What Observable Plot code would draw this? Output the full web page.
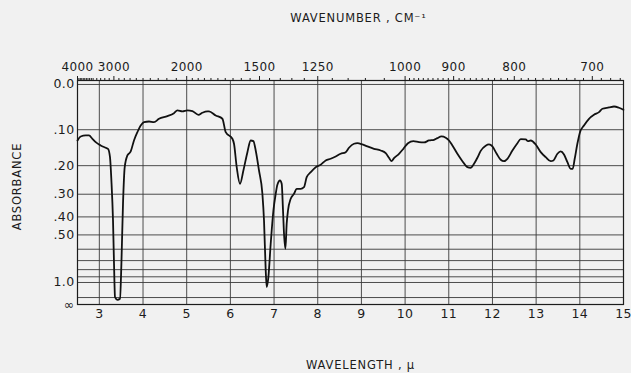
<!DOCTYPE html>
<html><head><meta charset="utf-8">
<script src="https://cdn.jsdelivr.net/npm/d3@7"></script>
<script src="https://cdn.jsdelivr.net/npm/@observablehq/plot@0.6"></script>
<style>
html,body{margin:0;padding:0;background:#f1f1f1;}
svg text{letter-spacing:0.4px;}
g[aria-label="text"] text{letter-spacing:0.8px;}
</style></head><body><div id="chart"></div>
<script>
// Spectrum: wavelength (µm) and absorbance
const wavelength = [2.500,2.573,2.688,2.763,2.841,2.917,3.031,3.146,3.198,3.244,3.276,3.313,3.336,3.359,3.413,3.473,3.505,3.542,3.581,3.642,3.718,3.793,3.871,3.947,4.023,4.137,4.251,4.366,4.558,4.709,4.787,4.902,5.016,5.131,5.268,5.359,5.474,5.511,5.664,5.817,5.893,6.046,6.083,6.145,6.220,6.298,6.390,6.465,6.527,6.580,6.655,6.733,6.770,6.809,6.832,6.870,6.923,6.985,7.038,7.076,7.136,7.175,7.205,7.228,7.260,7.289,7.319,7.381,7.457,7.518,7.610,7.685,7.747,7.839,7.953,8.067,8.182,8.296,8.411,8.525,8.640,8.715,8.830,8.908,9.022,9.137,9.288,9.441,9.556,9.631,9.686,9.746,9.860,9.961,10.066,10.190,10.318,10.433,10.547,10.662,10.739,10.831,10.930,11.005,11.083,11.197,11.312,11.426,11.502,11.578,11.655,11.731,11.845,11.921,11.999,12.097,12.189,12.264,12.342,12.457,12.571,12.647,12.761,12.814,12.876,12.990,13.105,13.219,13.334,13.395,13.487,13.562,13.638,13.716,13.791,13.837,13.883,13.944,14.004,14.095,14.210,14.324,14.439,14.517,14.668,14.783,14.897,14.998];
const absorbance = [0.1276,0.1171,0.1145,0.1145,0.1231,0.1321,0.1410,0.1473,0.1502,0.1743,0.2490,0.4182,0.7328,1.479,1.670,1.586,0.7328,0.3381,0.2047,0.1692,0.1577,0.1276,0.1061,0.0896,0.0816,0.0800,0.0816,0.0736,0.0676,0.0607,0.0546,0.0568,0.0546,0.0562,0.0644,0.0598,0.0568,0.0568,0.0660,0.0736,0.1061,0.1231,0.1364,0.2047,0.2607,0.2153,0.1597,0.1276,0.1294,0.1549,0.2153,0.2983,0.4182,0.8110,1.1043,0.9063,0.5593,0.3693,0.2983,0.2643,0.2490,0.2607,0.3693,0.4930,0.5966,0.4356,0.3693,0.3183,0.2983,0.2791,0.2791,0.2731,0.2376,0.2209,0.2047,0.1972,0.1841,0.1790,0.1722,0.1643,0.1597,0.1473,0.1364,0.1348,0.1383,0.1437,0.1502,0.1549,0.1626,0.1760,0.1862,0.1772,0.1643,0.1502,0.1348,0.1294,0.1321,0.1329,0.1276,0.1257,0.1215,0.1171,0.1205,0.1276,0.1410,0.1643,0.1862,0.2047,0.2066,0.1941,0.1760,0.1560,0.1418,0.1383,0.1437,0.1643,0.1820,0.1862,0.1790,0.1549,0.1348,0.1241,0.1249,0.1294,0.1276,0.1383,0.1597,0.1743,0.1862,0.1841,0.1643,0.1577,0.1663,0.1892,0.2099,0.2099,0.1790,0.1364,0.1061,0.0896,0.0736,0.0644,0.0584,0.0508,0.0480,0.0458,0.0486,0.0531];

// Axes and grid
const bottomTicks = [3,4,5,6,7,8,9,10,11,12,13,14,15];
const gridWavelength = [3,4,5,6,7,8,9,10,11,12,13,14];
const gridAbsorbance = [0,0.1,0.2,0.3,0.4,0.5,0.6,0.7,0.8,0.9,1.0,1.5];
const yTickAbsorbance = [0,0.1,0.2,0.3,0.4,0.5,1.0,Infinity];
const yTickLabels = ["0.0",".10",".20",".30",".40",".50","1.0","∞"];
const topTickWavenumbers = [4000,3000,2000,1500,1250,1000,900,800,700];
const minorWavenumbers = [
  3950,3900,3850,3800,3750,3700,3650,3600,3550,3500,3400,3300,3200,3100,
  2900,2800,2700,2600,2500,2400,2300,2200,2100,
  1950,1900,1850,1800,1750,1700,1650,1600,1550,
  1450,1400,1350,1300,1200,1150,1100,1050,
  990,980,970,960,950,940,930,920,910,
  890,880,870,860,850,840,830,820,810,
  790,780,770,760,750,740,730,720,710,
  690,680,670];

const toT = a => Math.pow(10, -a);
const spectrum = wavelength.map((w, i) => ({w, a: absorbance[i]}));
const yLabel = d => {
  const i = yTickAbsorbance.findIndex(a => Math.abs(toT(a) - d) < 1e-6);
  return i >= 0 ? yTickLabels[i] : "";
};

const ink = "#1c1c1c";
const plot = Plot.plot({
  width: 631, height: 373,
  marginLeft: 77, marginRight: 8, marginTop: 80, marginBottom: 69,
  style: {background: "#f1f1f1", fontFamily: "DejaVu Sans", fontSize: "12.5px", color: ink},
  x: {domain: [2.5, 15]},
  y: {domain: [0, 1.018]},
  marks: [
    Plot.ruleX(gridWavelength, {stroke: "#3a3a3a", strokeWidth: 0.9}),
    Plot.ruleY(gridAbsorbance, {y: toT, stroke: "#3a3a3a", strokeWidth: 0.9}),
    Plot.frame({stroke: ink, strokeWidth: 1.2}),
    Plot.line(spectrum, {x: "w", y: d => toT(d.a), stroke: "#111", strokeWidth: 1.8, curve: "monotone-x"}),
    Plot.axisX({ticks: bottomTicks, anchor: "bottom", tickSize: 0, tickPadding: 5, label: null, tickFormat: d => String(d)}),
    Plot.axisX({ticks: topTickWavenumbers.map(n => 1e4 / n), anchor: "top", tickSize: 5, tickPadding: 5, label: null, fontSize: 12, tickFormat: d => String(Math.round(1e4 / d))}),
    Plot.axisX({ticks: minorWavenumbers.map(n => 1e4 / n), anchor: "top", tickSize: 3, label: null, tickFormat: () => ""}),
    Plot.axisY({ticks: yTickAbsorbance.map(toT), anchor: "left", tickSize: 0, tickPadding: 3, label: null, tickFormat: yLabel}),
    Plot.text(["WAVENUMBER , CM⁻¹"], {frameAnchor: "top", dy: -62, dx: 8, textAnchor: "middle", lineAnchor: "middle", fontSize: 11.5, fill: ink}),
    Plot.text(["WAVELENGTH , μ"], {frameAnchor: "bottom", dy: 61, dx: 10, textAnchor: "middle", lineAnchor: "middle", fontSize: 11.5, fill: ink}),
    Plot.text(["ABSORBANCE"], {frameAnchor: "left", dx: -60, dy: -6, rotate: -90, textAnchor: "middle", lineAnchor: "middle", fontSize: 11.5, fill: ink})
  ]
});
document.getElementById("chart").appendChild(plot);
</script></body></html>
